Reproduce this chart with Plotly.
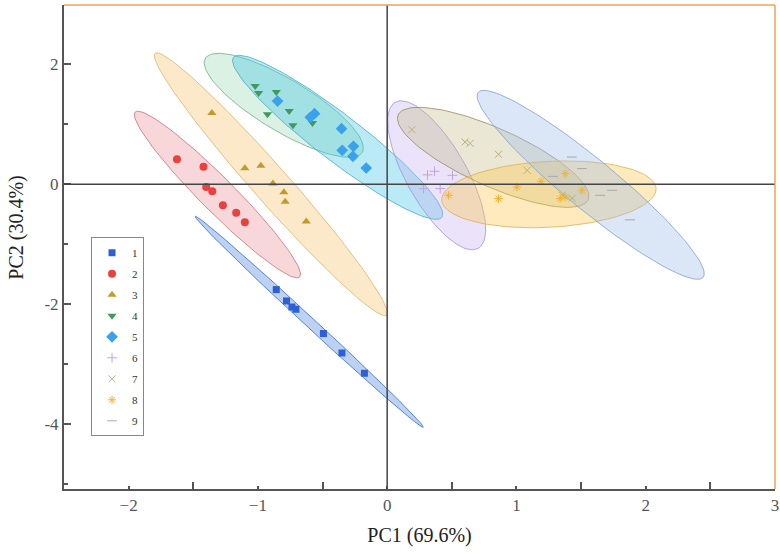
import numpy as np
import plotly.graph_objects as go

# PCA scores for each sample group (PC1, PC2)
groups = ["1", "2", "3", "4", "5", "6", "7", "8", "9"]

pc1_g1 = [-0.858, -0.779, -0.737, -0.706, -0.493, -0.350, -0.176]
pc2_g1 = [-1.755, -1.945, -2.045, -2.083, -2.488, -2.812, -3.150]

pc1_g2 = [-1.626, -1.421, -1.400, -1.353, -1.271, -1.168, -1.101]
pc2_g2 = [0.417, 0.295, -0.045, -0.117, -0.350, -0.472, -0.633]

pc1_g3 = [-1.356, -1.101, -0.977, -0.884, -0.799, -0.789, -0.626]
pc2_g3 = [1.188, 0.267, 0.308, 0.012, -0.133, -0.292, -0.620]

pc1_g4 = [-1.021, -0.995, -0.858, -0.926, -0.758, -0.729, -0.588, -0.578]
pc2_g4 = [1.638, 1.522, 1.538, 1.167, 1.222, 0.983, 1.122, 1.022]

pc1_g5 = [-0.848, -0.562, -0.595, -0.353, -0.348, -0.261, -0.265, -0.162]
pc2_g5 = [1.388, 1.178, 1.117, 0.928, 0.567, 0.633, 0.467, 0.272]

pc1_g6 = [0.312, 0.366, 0.505, 0.281, 0.410]
pc2_g6 = [0.158, 0.217, 0.150, -0.072, -0.072]

pc1_g7 = [0.191, 0.603, 0.642, 0.861, 1.083, 1.353, 1.431]
pc2_g7 = [0.912, 0.705, 0.683, 0.500, 0.233, -0.183, -0.233]

pc1_g8 = [0.474, 0.861, 1.003, 1.191, 1.338, 1.377, 1.506, 1.377]
pc2_g8 = [-0.183, -0.238, -0.045, 0.050, -0.238, -0.212, -0.100, 0.178]

pc1_g9 = [1.428, 1.506, 1.647, 1.879, 1.284, 1.740]
pc2_g9 = [0.455, 0.262, -0.183, -0.592, 0.133, -0.100]

pc1_all = [pc1_g1, pc1_g2, pc1_g3, pc1_g4, pc1_g5, pc1_g6, pc1_g7, pc1_g8, pc1_g9]
pc2_all = [pc2_g1, pc2_g2, pc2_g3, pc2_g4, pc2_g5, pc2_g6, pc2_g7, pc2_g8, pc2_g9]

# confidence ellipses: centre and two conjugate semi-diameters (data units)
ell_cx = [-0.603, -1.313, -0.899, -0.800, -0.383, 0.383, 0.820, 1.251, 1.574]
ell_cy = [-2.292, -0.170, 0.000, 1.317, 0.783, 0.150, 0.450, -0.167, -0.008]
ell_ux = [0.882, 0.636, 0.896, 0.607, 0.806, 0.321, 0.735, 0.829, 0.870]
ell_uy = [-1.758, -1.375, -2.183, -0.783, -1.333, -1.217, -0.708, 0.097, -1.542]
ell_vx = [-0.026, -0.093, -0.104, -0.103, -0.108, -0.202, -0.092, 0.014, -0.123]
ell_vy = [-0.061, -0.200, -0.198, -0.372, -0.304, -0.247, -0.441, -0.549, -0.322]

y_tickvals = [-4, -2, 0, 2]
y_ticktext = ["-4", "-2", "0", "2"]

marker_colors = ["#2d5fd8", "#e8413e", "#c49a28", "#3f9a5c", "#3aa2ea",
                 "#c4a2e4", "#b4b27e", "#f2b233", "#a8a8a8"]
symbols = ["square", "circle", "triangle-up", "triangle-down", "diamond",
           "cross-thin", "x-thin", "asterisk", "line-ew"]
sizes = [7, 8, 8, 8, 9, 7, 7, 7, 7]
fills = ["rgba(90,140,225,0.40)", "rgba(225,110,120,0.28)", "rgba(245,200,120,0.40)",
         "rgba(150,215,175,0.35)", "rgba(70,200,230,0.38)", "rgba(195,175,240,0.35)",
         "rgba(190,180,120,0.32)", "rgba(252,200,80,0.38)", "rgba(160,190,232,0.38)"]
edges = ["rgba(70,120,210,0.9)", "rgba(205,110,120,0.8)", "rgba(220,180,110,0.8)",
         "rgba(110,175,135,0.8)", "rgba(70,170,200,0.8)", "rgba(165,145,215,0.8)",
         "rgba(150,140,90,0.8)", "rgba(225,175,80,0.8)", "rgba(130,160,205,0.8)"]

FONT = "Liberation Serif, Times New Roman, serif"

fig = go.Figure()

t = np.linspace(0, 2 * np.pi, 120)
for i in range(len(groups)):
    ex = ell_cx[i] + ell_ux[i] * np.cos(t) + ell_vx[i] * np.sin(t)
    ey = ell_cy[i] + ell_uy[i] * np.cos(t) + ell_vy[i] * np.sin(t)
    fig.add_trace(go.Scatter(
        x=ex, y=ey, mode="lines", fill="toself",
        fillcolor=fills[i], line=dict(color=edges[i], width=1),
        showlegend=False, hoverinfo="skip",
    ))

for i, g in enumerate(groups):
    thin = symbols[i] in ["cross-thin", "x-thin", "asterisk", "line-ew"]
    fig.add_trace(go.Scatter(
        x=pc1_all[i], y=pc2_all[i], mode="markers", name=g,
        legendgroup=g,
        marker=dict(
            symbol=symbols[i], size=sizes[i], color=marker_colors[i],
            line=dict(color=marker_colors[i], width=1 if thin else 0),
        ),
    ))

# axes through the origin, drawn over the ellipses
fig.add_shape(type="line", xref="x", yref="paper", x0=0, x1=0, y0=0, y1=1,
              line=dict(color="#444", width=1.5), layer="above")
fig.add_shape(type="line", xref="paper", yref="y", x0=0, x1=1, y0=0, y1=0,
              line=dict(color="#444", width=1.5), layer="above")

# orange top / right frame
fig.add_shape(type="line", xref="paper", yref="paper", x0=0, x1=1, y0=1, y1=1,
              line=dict(color="#f0a25a", width=1.5))
fig.add_shape(type="line", xref="paper", yref="paper", x0=1, x1=1, y0=0, y1=1,
              line=dict(color="#f0a25a", width=1.5))

fig.add_annotation(
    text="PC2 (30.4%)", textangle=-90, xref="paper", yref="paper",
    x=-0.066, y=0.54, xanchor="center", yanchor="middle", showarrow=False,
    font=dict(size=20, color="#222", family=FONT),
)

fig.update_layout(
    width=780, height=560,
    margin=dict(l=64, r=5, t=5, b=71, autoexpand=False),
    plot_bgcolor="white", paper_bgcolor="white",
    font=dict(family=FONT, color="#333"),
    legend=dict(
        x=0.038, y=0.52, xanchor="left", yanchor="top",
        bordercolor="#888", borderwidth=1, bgcolor="white",
        font=dict(size=11, family=FONT, color="#333"),
        tracegroupgap=2,
    ),
    xaxis=dict(
        range=[-2.5, 3], dtick=1, showgrid=False, zeroline=False, automargin=False,
        showline=True, linecolor="#555", linewidth=2,
        ticks="inside", ticklen=3, tickwidth=2, tickcolor="#555",
        minor=dict(dtick=0.5, ticks="inside", ticklen=7, tickwidth=2, tickcolor="#555"),
        tickfont=dict(size=17, color="#555"),
        title=dict(text="PC1 (69.6%)", font=dict(size=20, color="#222"), standoff=14),
    ),
    yaxis=dict(
        range=[-5.08, 2.99], tickvals=y_tickvals, ticktext=y_ticktext, showgrid=False,
        zeroline=False, automargin=False,
        showline=True, linecolor="#555", linewidth=2,
        ticks="inside", ticklen=7, tickwidth=2, tickcolor="#555",
        minor=dict(dtick=1, ticks="inside", ticklen=4, tickwidth=2, tickcolor="#555"),
        tickfont=dict(size=17, color="#555"),
    ),
)

# drop the browser's default page margin so the 780x560 figure fills the window
fig.write_html(
    "out.html",
    config={"displayModeBar": False},
    post_script="document.body.style.margin='0';document.body.style.overflow='hidden';",
)
